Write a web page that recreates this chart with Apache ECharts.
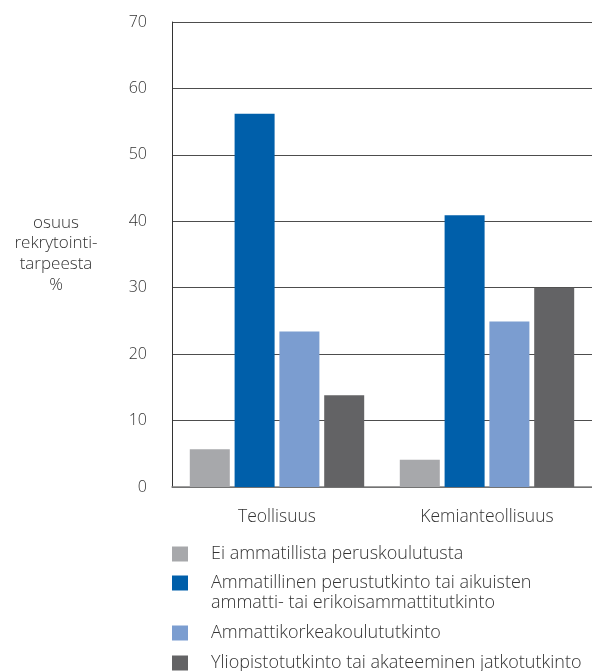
<!DOCTYPE html>
<html>
<head>
<meta charset="utf-8">
<script src="https://cdn.jsdelivr.net/npm/echarts@6/dist/echarts.min.js"></script>
<style>
  html, body { margin: 0; padding: 0; background: #ffffff; }
  #chart { width: 592px; height: 671px; }
</style>
</head>
<body>
<div id="chart"></div>
<script>
// Sectors on the category axis
const categories = ['Teollisuus', 'Kemianteollisuus'];

// Education levels (one series each)
const seriesNames = [
  'Ei ammatillista peruskoulutusta',
  'Ammatillinen perustutkinto tai aikuisten\nammatti- tai erikoisammattitutkinto',
  'Ammattikorkeakoulututkinto',
  'Yliopistotutkinto tai akateeminen jatkotutkinto'
];

// Share of recruitment need, % (Teollisuus, Kemianteollisuus)
const eiAmmatillista = [5.7, 4.1];
const ammatillinen = [56.2, 40.9];
const amk = [23.4, 24.9];
const yliopisto = [13.8, 30.0];

// Y-axis ticks
const yMin = 0;
const yMax = 70;
const yStep = 10;

const yAxisTitle = 'osuus\nrekrytointi-\ntarpeesta\n%';

const colors = ['#A7A8AB', '#005FAA', '#7B9DD0', '#636365'];
const values = [eiAmmatillista, ammatillinen, amk, yliopisto];

const FONT = '"Open Sans", "DejaVu Sans", sans-serif';
const TEXT_COLOR = '#333333';

const chart = echarts.init(document.getElementById('chart'), null, { renderer: 'canvas' });

const series = seriesNames.map((name, i) => ({
  name: name,
  type: 'bar',
  data: values[i],
  barWidth: 40,
  barGap: '12%',
  itemStyle: { color: colors[i] },
  emphasis: { disabled: true }
}));

// Square swatch; the two-line entry gets a taller icon box so the
// swatch lines up with its first text line.
const SWATCH = 'path://M0,0H16V15H0Z';
const SWATCH_TALL = 'path://M0,0H16V15H0Z M0,35';

const legendTops = [544, 573, 623, 653];
const legends = seriesNames.map((name, i) => {
  const twoLine = name.indexOf('\n') >= 0;
  return {
    data: [{ name: name, icon: twoLine ? SWATCH_TALL : SWATCH }],
    left: 172,
    top: legendTops[i],
    padding: 0,
    itemWidth: 16,
    itemHeight: twoLine ? 35 : 15,
    itemGap: 0,
    selectedMode: false,
    textStyle: {
      fontFamily: FONT,
      fontWeight: 300,
      fontSize: 18,
      color: TEXT_COLOR,
      lineHeight: 20,
      padding: [0, 0, 0, 18]
    }
  };
});

const option = {
  backgroundColor: '#ffffff',
  animation: false,
  color: colors,
  grid: { left: 172, right: 0, top: 22, bottom: 184, containLabel: false },
  legend: legends,
  xAxis: {
    type: 'category',
    data: categories,
    axisLine: { show: true, lineStyle: { color: '#808080', width: 1.5 } },
    axisTick: { show: false },
    axisLabel: {
      margin: 21,
      fontFamily: FONT,
      fontWeight: 300,
      fontSize: 17.5,
      color: TEXT_COLOR
    }
  },
  yAxis: {
    type: 'value',
    min: yMin,
    max: yMax,
    interval: yStep,
    axisLine: { show: true, lineStyle: { color: '#333333', width: 1 } },
    axisTick: { show: false },
    axisLabel: {
      margin: 25,
      fontFamily: FONT,
      fontWeight: 300,
      fontSize: 16,
      color: TEXT_COLOR
    },
    splitLine: { show: true, lineStyle: { color: '#4d4d4d', width: 1 } }
  },
  graphic: [
    {
      type: 'text',
      x: 56,
      y: 212.5,
      style: {
        text: yAxisTitle,
        align: 'center',
        verticalAlign: 'top',
        fontFamily: FONT,
        fontWeight: 300,
        fontSize: 17,
        fill: TEXT_COLOR,
        lineHeight: 20.7
      }
    }
  ],
  series: series
};

chart.setOption(option);
</script>
</body>
</html>
